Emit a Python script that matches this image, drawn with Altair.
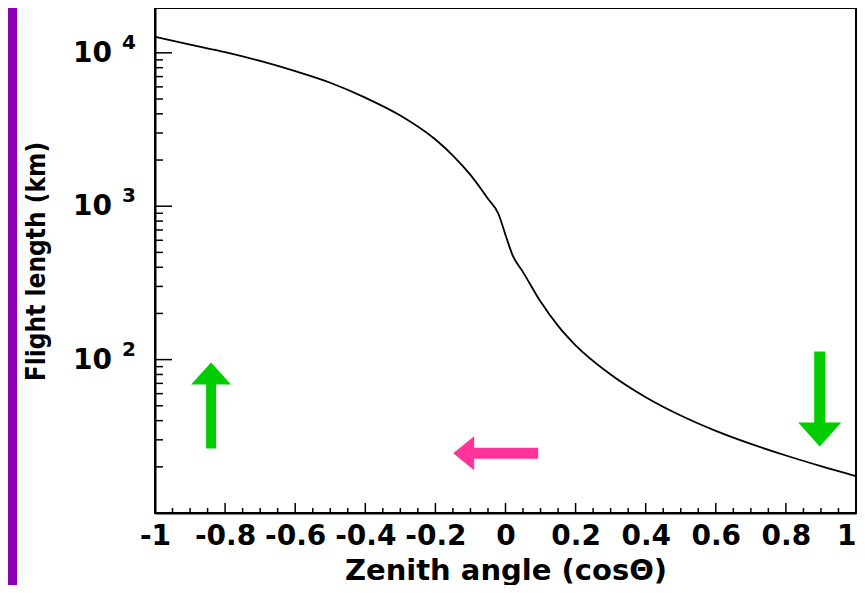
import altair as alt
import pandas as pd

# ---- data ----
cos_theta = [-1.0, -0.9, -0.8, -0.7, -0.6, -0.5, -0.4, -0.3, -0.2, -0.15, -0.1, -0.05,
             -0.02, 0.0, 0.02, 0.05, 0.1, 0.15, 0.2, 0.3, 0.4, 0.5, 0.6, 0.7, 0.8, 0.9, 1.0]
flight_km = [12700, 11300, 10100, 8850, 7590, 6380, 5100, 3900, 2720, 2140, 1600, 1120,
             890, 650, 480, 372, 239, 166, 124, 80, 56.9, 43.2, 34.3, 28.2, 23.7, 20.2, 17.4]

# tick values
x_major = [-1.0, -0.8, -0.6, -0.4, -0.2, 0.0, 0.2, 0.4, 0.6, 0.8, 1.0]
x_minor = [-0.95, -0.9, -0.85, -0.75, -0.7, -0.65, -0.55, -0.5, -0.45, -0.35, -0.3, -0.25,
           -0.15, -0.1, -0.05, 0.05, 0.1, 0.15, 0.25, 0.3, 0.35, 0.45, 0.5, 0.55,
           0.65, 0.7, 0.75, 0.85, 0.9, 0.95]
y_major = [10, 100, 1000, 10000]
y_minor = [20, 30, 40, 50, 60, 70, 80, 90,
           200, 300, 400, 500, 600, 700, 800, 900,
           2000, 3000, 4000, 5000, 6000, 7000, 8000, 9000]
y_label_vals = [100, 1000, 10000]
y_label_base = ["10", "10", "10"]
y_label_exps = ["2", "3", "4"]

# arrows (centre position in data units)
arrow_cos = [-0.84, 0.8965, -0.028]
arrow_km = [50.2, 55.4, 24.5]
arrow_color = ["#00cc00", "#00cc00", "#ff3399"]

ARROW_SHAPES = [
    "M0,-1L0.465,-0.488L0.116,-0.488L0.116,1L-0.116,1L-0.116,-0.488L-0.465,-0.488Z",
    "M0,1L0.453,0.495L0.116,0.495L0.116,-1L-0.116,-1L-0.116,0.495L-0.453,0.495Z",
    "M-1,0L-0.506,-0.4L-0.506,-0.13L1,-0.13L1,0.13L-0.506,0.13L-0.506,0.4Z",
]
ARROW_SIZES = [7396, 9025, 7225]

FONT_WIDE = "DejaVu Sans"
FONT_NARROW = "DejaVu Sans Condensed, Liberation Sans Narrow, Liberation Sans"

W, H = 701, 505

xs = alt.Scale(domain=[-1, 1], nice=False, zero=False)
ys = alt.Scale(type="log", domain=[10, 19600], nice=False)

x_axis = alt.Axis(
    values=x_major, ticks=False, grid=False, domainColor="black", domainWidth=2,
    labelFont=FONT_WIDE, labelFontSize=28, labelFontWeight="bold", labelColor="black",
    labelPadding=9, labelOverlap=False, labelFlush=False,
    labelAlign={"condition": {"test": "datum.value >= 1", "value": "right"}, "value": "center"},
    labelExpr="datum.value == 0 ? '0' : (datum.value < 0 ? '-' : '') + format(abs(datum.value), '~g')",
    title="Zenith angle (cosΘ)", titleFont=FONT_WIDE, titleFontSize=29, titleFontWeight="bold",
    titleColor="black", titleY=66, titleBaseline="alphabetic", zindex=1)
y_axis = alt.Axis(
    labels=False, ticks=False, grid=False, domainColor="black", domainWidth=2,
    title="Flight length (km)", titleFont=FONT_NARROW, titleFontSize=26, titleFontWeight="bold",
    titleColor="black", titleX=-111, titleY=253, titleAngle=270, titleAlign="center",
    titleBaseline="alphabetic", zindex=1)

X = lambda: alt.X("cos:Q", scale=xs, axis=x_axis)
Y = lambda: alt.Y("km:Q", scale=ys, axis=y_axis)

curve_df = pd.DataFrame({"cos": cos_theta, "km": flight_km})
curve = alt.Chart(curve_df).mark_line(color="black", strokeWidth=1.8, interpolate="monotone").encode(
    x=X(), y=Y())

ymaj = alt.Chart(pd.DataFrame({"km": y_major})).mark_rule(color="black", strokeWidth=1.5).encode(
    y=Y(), x=alt.value(0), x2=alt.value(17))
ymin = alt.Chart(pd.DataFrame({"km": y_minor})).mark_rule(color="black", strokeWidth=1.5).encode(
    y=Y(), x=alt.value(0), x2=alt.value(8))
xmaj = alt.Chart(pd.DataFrame({"cos": x_major})).mark_rule(color="black", strokeWidth=1.5).encode(
    x=X(), y=alt.value(H), y2=alt.value(H - 10))
xmin = alt.Chart(pd.DataFrame({"cos": x_minor})).mark_rule(color="black", strokeWidth=1.5).encode(
    x=X(), y=alt.value(H), y2=alt.value(H - 5))

lab_df = pd.DataFrame({"km": y_label_vals, "base": y_label_base, "exp": y_label_exps})
ylab_base = alt.Chart(lab_df).mark_text(font=FONT_WIDE, fontSize=28, fontWeight="bold", color="black",
                                        align="right", baseline="middle", dy=1).encode(
    y=Y(), x=alt.value(-43), text="base:N")
ylab_exp = alt.Chart(lab_df).mark_text(font=FONT_WIDE, fontSize=20, fontWeight="bold", color="black",
                                       align="left", baseline="middle", dy=-10).encode(
    y=Y(), x=alt.value(-33), text="exp:N")

arrows = []
for c, k, col, shp, sz in zip(arrow_cos, arrow_km, arrow_color, ARROW_SHAPES, ARROW_SIZES):
    arrows.append(
        alt.Chart(pd.DataFrame({"cos": [c], "km": [k]})).mark_point(
            shape=shp, size=sz, filled=True, color=col, opacity=1, strokeWidth=0).encode(
            x=X(), y=Y())
    )

strip = alt.Chart(pd.DataFrame({"s": [0]})).mark_rect(color="#8c00b4").encode(
    x=alt.value(-147), x2=alt.value(-138), y=alt.value(0), y2=alt.value(577))

chart = alt.layer(curve, strip, ymaj, ymin, xmaj, xmin, ylab_base, ylab_exp, *arrows).properties(
    width=W, height=H,
    padding={"left": 147, "top": 0, "right": 1, "bottom": 72},
    autosize=alt.AutoSizeParams(type="none"),
    background="white",
).configure_view(stroke="black", strokeWidth=2)

chart.save("out.html", embed_options={"renderer": "svg", "actions": False})
